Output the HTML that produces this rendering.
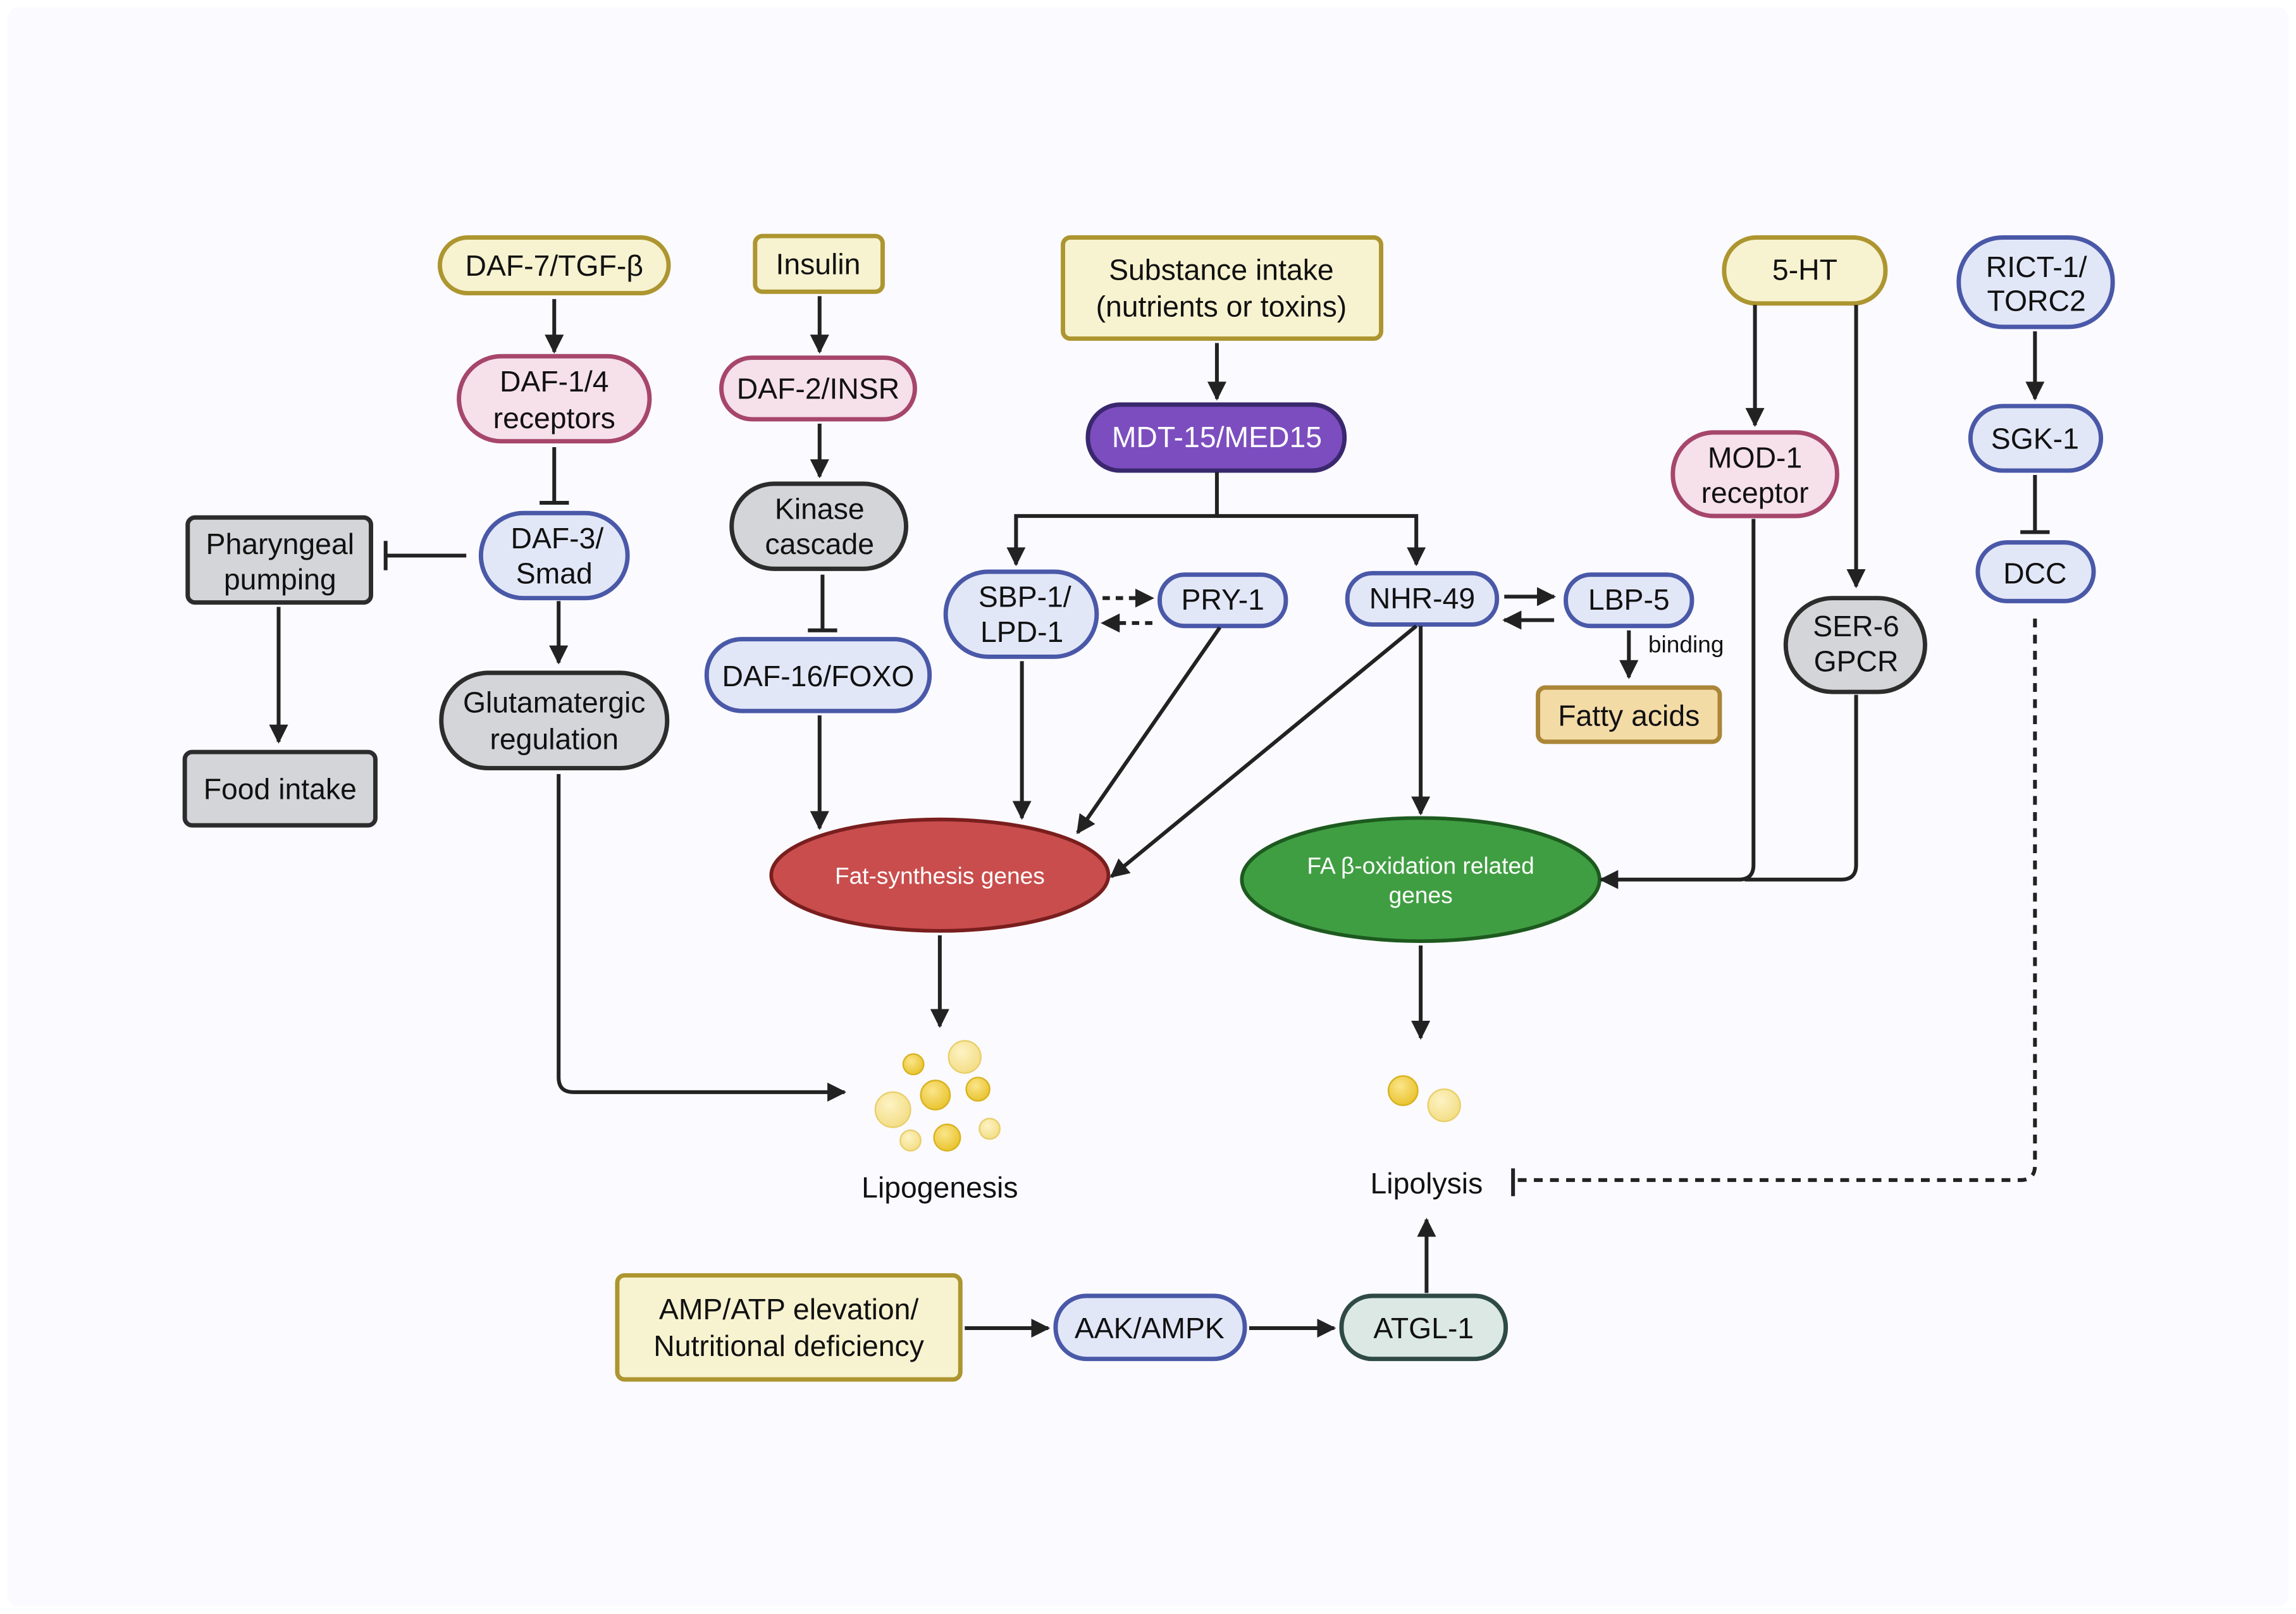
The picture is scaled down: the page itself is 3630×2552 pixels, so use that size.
<!DOCTYPE html>
<html><head><meta charset="utf-8"><style>
html,body{margin:0;padding:0;background:#fff;}
svg{display:block;}
text{font-family:"Liberation Sans",sans-serif;}
</style></head><body>
<svg width="3630" height="2552" viewBox="0 0 1566 1101" xmlns="http://www.w3.org/2000/svg">
<defs>
<marker id="a" viewBox="0 0 10 10" refX="9" refY="5" markerWidth="5" markerHeight="5" orient="auto-start-reverse" markerUnits="strokeWidth"><path d="M0,0 L10,5 L0,10 z" fill="#222"/></marker>
<radialGradient id="yd" cx="0.4" cy="0.35" r="0.7"><stop offset="0" stop-color="#fbe58a"/><stop offset="1" stop-color="#e8c22a"/></radialGradient>
<radialGradient id="yl" cx="0.4" cy="0.35" r="0.7"><stop offset="0" stop-color="#fdf3c4"/><stop offset="1" stop-color="#f3dc82"/></radialGradient>
</defs>
<rect x="0" y="0" width="1566" height="1101" fill="#ffffff"/>
<rect x="5" y="5" width="1556" height="1091" rx="8" fill="#fbfaff"/>

<g font-size="20" text-anchor="middle" fill="#111">
<g fill="#f7f3d0" stroke="#ad9530" stroke-width="3">
<rect x="300" y="162" width="156" height="38" rx="19"/>
<rect x="515" y="161" width="87" height="38" rx="5"/>
<rect x="725" y="162" width="217" height="69" rx="5"/>
<rect x="1176" y="162" width="110" height="45" rx="22"/>
<rect x="421" y="870" width="234" height="71" rx="5"/>
</g>
<g fill="#f6e0ea" stroke="#a6466a" stroke-width="3">
<rect x="313" y="243" width="130" height="58" rx="29"/>
<rect x="492" y="244" width="132" height="42" rx="21"/>
<rect x="1141" y="295" width="112" height="57" rx="28"/>
</g>
<g fill="#e2e7f8" stroke="#4a58a8" stroke-width="3">
<rect x="1336" y="162" width="105" height="61" rx="30"/>
<rect x="1344" y="277" width="89" height="44" rx="22"/>
<rect x="328" y="350" width="100" height="58" rx="29"/>
<rect x="1349" y="370" width="79" height="40" rx="20"/>
<rect x="645" y="390" width="103" height="58" rx="29"/>
<rect x="791" y="392" width="86" height="35" rx="17"/>
<rect x="919" y="391" width="102" height="35" rx="17"/>
<rect x="1068" y="392" width="86" height="35" rx="17"/>
<rect x="482" y="436" width="152" height="49" rx="24"/>
<rect x="720" y="884" width="129" height="43" rx="21"/>
</g>
<g fill="#d3d5d8" stroke="#2c2c2c" stroke-width="3">
<rect x="499" y="330" width="119" height="58" rx="29"/>
<rect x="128" y="353" width="125" height="58" rx="5"/>
<rect x="1218" y="408" width="95" height="64" rx="32"/>
<rect x="301" y="459" width="154" height="65" rx="32"/>
<rect x="126" y="513" width="130" height="50" rx="5"/>
</g>
<rect x="742" y="276" width="175" height="45" rx="22" fill="#7c4dbf" stroke="#3a286e" stroke-width="3"/>
<rect x="1049" y="469" width="124" height="37" rx="5" fill="#f3dba6" stroke="#ab8638" stroke-width="3"/>
<rect x="915" y="884" width="112" height="43" rx="21" fill="#dbe8e3" stroke="#2f4a45" stroke-width="3"/>
<ellipse cx="641" cy="597" rx="115" ry="38" fill="#c94d4d" stroke="#7a1e1e" stroke-width="2.5"/>
<ellipse cx="969" cy="600" rx="122" ry="42" fill="#409e42" stroke="#1d5a1f" stroke-width="2.5"/>

<text x="378" y="188">DAF-7/TGF-β</text>
<text x="558" y="187">Insulin</text>
<text x="833" y="191">Substance intake</text>
<text x="833" y="216">(nutrients or toxins)</text>
<text x="1231" y="191">5-HT</text>
<text x="1389" y="189">RICT-1/</text>
<text x="1389" y="212">TORC2</text>
<text x="378" y="267">DAF-1/4</text>
<text x="378" y="292">receptors</text>
<text x="558" y="272">DAF-2/INSR</text>
<text x="830" y="305" fill="#fff">MDT-15/MED15</text>
<text x="1197" y="319">MOD-1</text>
<text x="1197" y="343">receptor</text>
<text x="1388" y="306">SGK-1</text>
<text x="559" y="354">Kinase</text>
<text x="559" y="378">cascade</text>
<text x="380" y="374">DAF-3/</text>
<text x="378" y="398">Smad</text>
<text x="191" y="378">Pharyngeal</text>
<text x="191" y="402">pumping</text>
<text x="1388" y="398">DCC</text>
<text x="699" y="414">SBP-1/</text>
<text x="697" y="438">LPD-1</text>
<text x="834" y="416">PRY-1</text>
<text x="970" y="415">NHR-49</text>
<text x="1111" y="416">LBP-5</text>
<text x="1266" y="434">SER-6</text>
<text x="1266" y="458">GPCR</text>
<text x="558" y="468">DAF-16/FOXO</text>
<text x="378" y="486">Glutamatergic</text>
<text x="378" y="511">regulation</text>
<text x="191" y="545">Food intake</text>
<text x="1111" y="495">Fatty acids</text>
<text x="641" y="603" font-size="16" fill="#fff">Fat-synthesis genes</text>
<text x="969" y="596" font-size="16" fill="#fff">FA β-oxidation related</text>
<text x="969" y="616" font-size="16" fill="#fff">genes</text>
<text x="641" y="817">Lipogenesis</text>
<text x="973" y="814">Lipolysis</text>
<text x="538" y="900">AMP/ATP elevation/</text>
<text x="538" y="925">Nutritional deficiency</text>
<text x="784" y="913">AAK/AMPK</text>
<text x="971" y="913">ATGL-1</text>
<text x="1150" y="445" font-size="16">binding</text>
</g>

<g stroke="#222" stroke-width="2.6" fill="none">
<g marker-end="url(#a)">
<path d="M378,204V240"/>
<path d="M381,410V452"/>
<path d="M190,414V506"/>
<path d="M381,528V735q0,10 10,10H576"/>
<path d="M559,202V240"/>
<path d="M559,289V325"/>
<path d="M559,488V565"/>
<path d="M830,234V272"/>
<path d="M830,322V352H693V385"/>
<path d="M830,352H966V385"/>
<path d="M697,451V558"/>
<path d="M832,428L735,568"/>
<path d="M966,427L758,598"/>
<path d="M969,427V555"/>
<path d="M1026,407H1060"/>
<path d="M1060,423H1026"/>
<path d="M1111,430V462"/>
<path d="M1197,208V290"/>
<path d="M1266,208V400"/>
<path d="M1196,354V590q0,10 -10,10H1092"/>
<path d="M1388,226V272"/>
<path d="M641,638V700"/>
<path d="M969,645V708"/>
<path d="M658,906H715"/>
<path d="M852,906H910"/>
<path d="M973,882V832"/>
</g>
<path d="M1266,474V590q0,10 -10,10H1190"/>
<path d="M752,408H786" stroke-dasharray="5,4" marker-end="url(#a)"/>
<path d="M786,425H752" stroke-dasharray="5,4" marker-end="url(#a)"/>
<path d="M378,305V343M368,343H388"/>
<path d="M318,379H263M263,369V389"/>
<path d="M561,392V430M551,430H571"/>
<path d="M1388,324V363M1378,363H1398"/>
<path d="M1388,422V795q0,10 -10,10H1034" stroke-dasharray="6,5"/>
<path d="M1032,797V816"/>
</g>

<g stroke-width="1">
<circle cx="623" cy="726" r="7" fill="url(#yd)" stroke="#d8b21e"/>
<circle cx="658" cy="721" r="11" fill="url(#yl)" stroke="#e8cf6a"/>
<circle cx="638" cy="747" r="10" fill="url(#yd)" stroke="#d8b21e"/>
<circle cx="667" cy="743" r="8" fill="url(#yd)" stroke="#d8b21e"/>
<circle cx="609" cy="757" r="12" fill="url(#yl)" stroke="#e8cf6a"/>
<circle cx="646" cy="776" r="9" fill="url(#yd)" stroke="#d8b21e"/>
<circle cx="621" cy="778" r="7" fill="url(#yl)" stroke="#e8cf6a"/>
<circle cx="675" cy="770" r="7" fill="url(#yl)" stroke="#e8cf6a"/>
<circle cx="957" cy="744" r="10" fill="url(#yd)" stroke="#d8b21e"/>
<circle cx="985" cy="754" r="11" fill="url(#yl)" stroke="#e8cf6a"/>
</g>
</svg>
</body></html>
